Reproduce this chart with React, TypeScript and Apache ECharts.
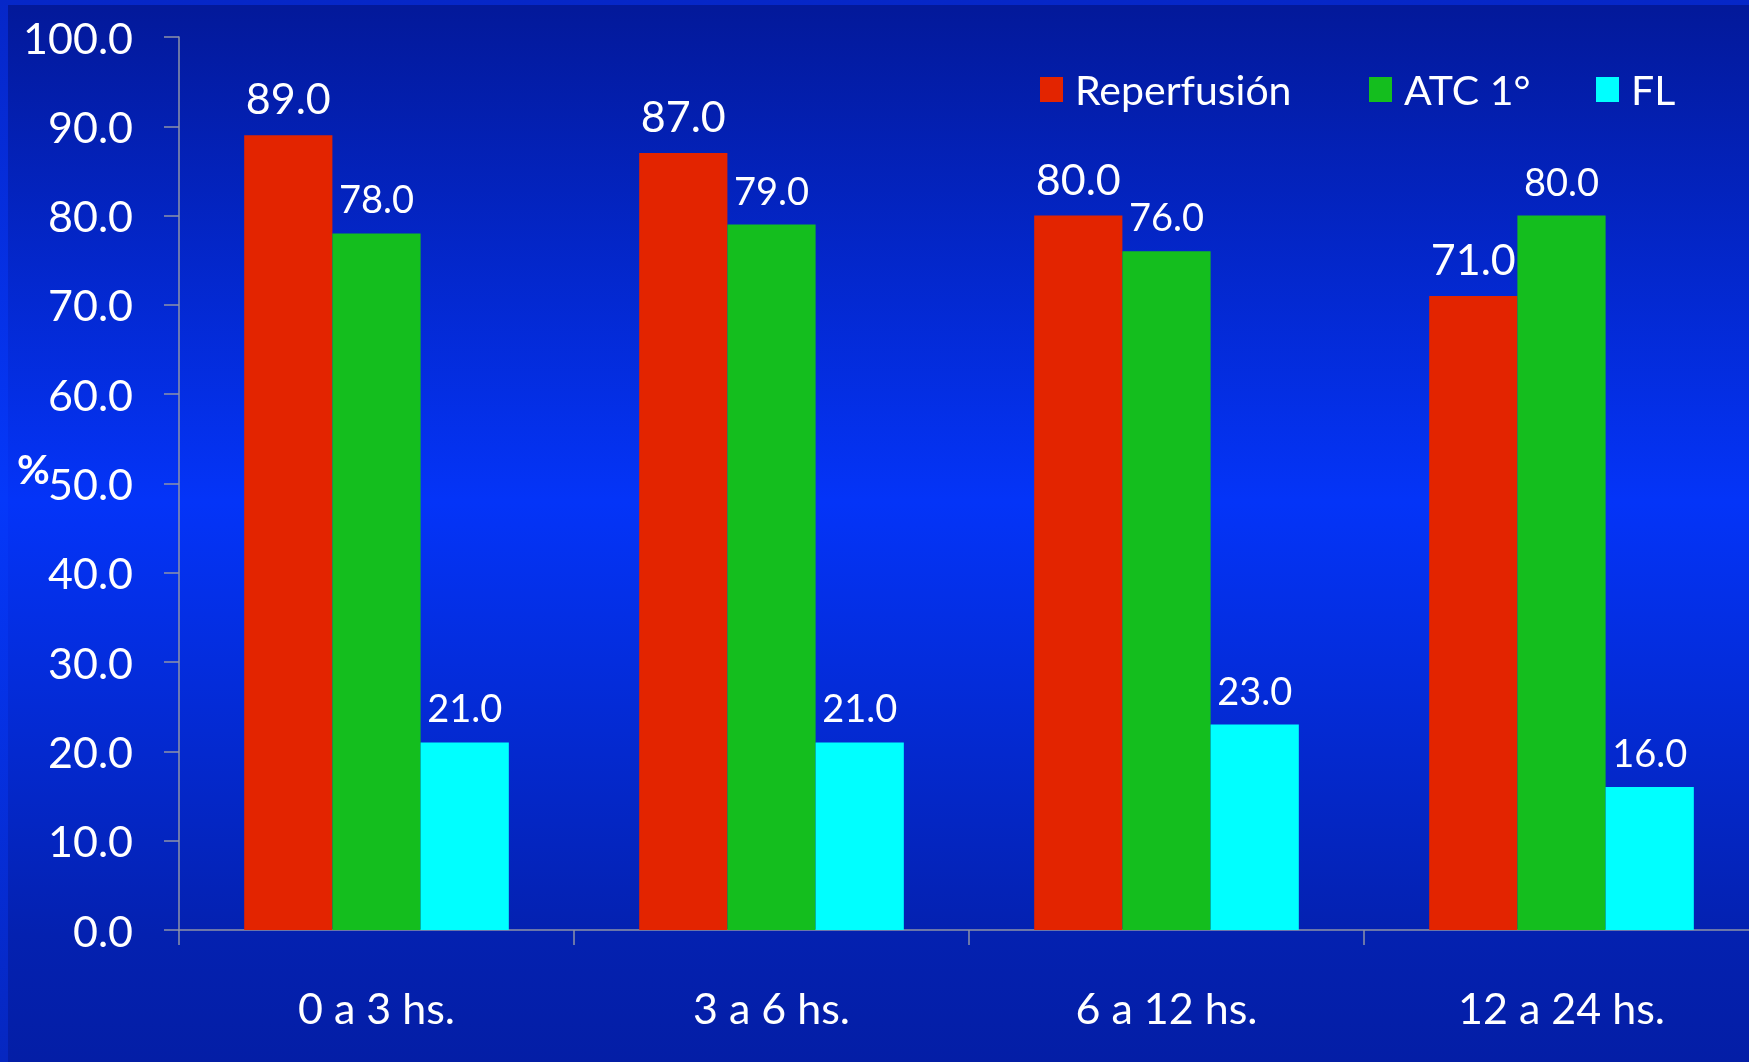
import React, { useEffect, useRef } from "react";
import * as echarts from "echarts";

// Categories: time from symptom onset
const categories = ["0 a 3 hs.", "3 a 6 hs.", "6 a 12 hs.", "12 a 24 hs."];

// Series values (%)
const reperfusion = [89, 87, 80, 71];
const atc = [78, 79, 76, 80];
const fl = [21, 21, 23, 16];

const seriesNames = ["Reperfusión", "ATC 1°", "FL"];
const seriesColors = ["#E32400", "#14BE1E", "#00FFFF"];

// Y axis scale
const yMin = 0;
const yMax = 100;
const yStep = 10;

const FONT = "Lato, 'Open Sans', 'Noto Sans', sans-serif";
const AXIS_GREY = "#8E93A8";

export default function App() {
  const ref = useRef<HTMLDivElement>(null);

  useEffect(() => {
    if (!ref.current) return;
    const chart = echarts.init(ref.current, undefined, { renderer: "svg" });

    const values = [reperfusion, atc, fl];
    const labelSizes = [43, 38, 38];
    const labelDistances = [16, 16, 16];

    const legendLefts = [1035, 1364, 1591];

    const option: any = {
      animation: false,
      backgroundColor: "transparent",
      textStyle: { fontFamily: FONT },
      graphic: [
        {
          type: "rect",
          z: -10,
          silent: true,
          shape: { x: 0, y: 0, width: 1749, height: 1062 },
          style: {
            fill: new echarts.graphic.LinearGradient(0, 0, 0, 1, [
              { offset: 0, color: "#0627C8" },
              { offset: 0.47, color: "#0538FA" },
              { offset: 1, color: "#0627C0" },
            ]),
          },
        },
        {
          type: "rect",
          z: -9,
          silent: true,
          shape: { x: 8, y: 5, width: 1741, height: 1057 },
          style: {
            fill: new echarts.graphic.LinearGradient(0, 0, 0, 1, [
              { offset: 0, color: "#03199A" },
              { offset: 0.47, color: "#0434F8" },
              { offset: 0.88, color: "#0421B0" },
              { offset: 1, color: "#041EA6" },
            ]),
          },
        },
        {
          type: "text",
          left: 17,
          top: 449,
          style: {
            text: "%",
            fill: "#FFFFFF",
            font: `bold 40px ${FONT}`,
          },
        },
      ],
      legend: seriesNames.map((name, i) => ({
        left: legendLefts[i],
        top: 64,
        data: [name],
        icon: "rect",
        itemWidth: 23,
        itemHeight: 25,
        selectedMode: false,
        textStyle: {
          color: "#FFFFFF",
          fontSize: 41,
          fontFamily: FONT,
          padding: [0, 0, 0, 7],
        },
      })),
      grid: {
        left: 179,
        top: 37,
        width: 1580,
        bottom: 132,
        containLabel: false,
        outerBoundsMode: "none",
      },
      xAxis: {
        type: "category",
        data: categories,
        axisLine: { show: true, lineStyle: { color: AXIS_GREY, width: 1.5 } },
        axisTick: { show: true, length: 15, lineStyle: { color: AXIS_GREY, width: 1.5 } },
        axisLabel: {
          color: "#FFFFFF",
          fontSize: 43,
          fontFamily: FONT,
          margin: 56,
        },
        splitLine: { show: false },
      },
      yAxis: {
        type: "value",
        min: yMin,
        max: yMax,
        interval: yStep,
        axisLine: { show: true, lineStyle: { color: AXIS_GREY, width: 1.5 } },
        axisTick: { show: true, length: 15, lineStyle: { color: AXIS_GREY, width: 1.5 } },
        splitLine: { show: false },
        axisLabel: {
          color: "#FFFFFF",
          fontSize: 43,
          fontFamily: FONT,
          margin: 46,
          padding: [10, 0, 0, 0],
          formatter: (v: number) => v.toFixed(1),
        },
      },
      series: seriesNames.map((name, i) => ({
        name,
        type: "bar",
        data: values[i],
        barGap: "0%",
        barCategoryGap: "33%",
        itemStyle: { color: seriesColors[i] },
        label: {
          show: true,
          position: "top",
          distance: labelDistances[i],
          color: "#FFFFFF",
          fontSize: labelSizes[i],
          fontFamily: FONT,
          formatter: (p: any) => Number(p.value).toFixed(1),
        },
      })),
    };

    chart.setOption(option);
    return () => chart.dispose();
  }, []);

  return (
    <div
      ref={ref}
      style={{ position: "fixed", left: 0, top: 0, width: 1749, height: 1062 }}
    />
  );
}
